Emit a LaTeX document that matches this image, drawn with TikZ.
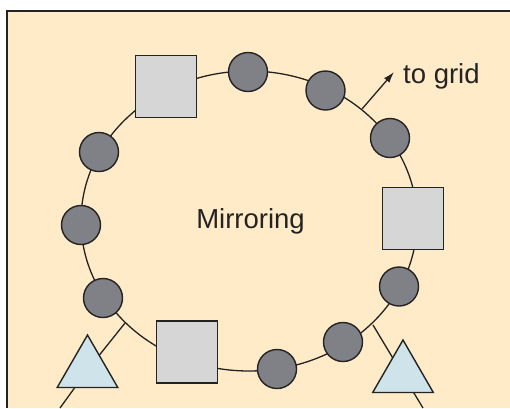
\documentclass[tikz,border=0pt]{standalone}
\usepackage{fontspec}
\setmainfont{Liberation Sans}
\usetikzlibrary{shapes.geometric,arrows.meta,backgrounds}
\definecolor{paper}{RGB}{255,235,200}
\definecolor{ink}{RGB}{35,35,35}
\definecolor{nodegray}{RGB}{128,129,134}
\definecolor{boxgray}{RGB}{214,214,214}
\definecolor{paleblue}{RGB}{206,228,234}
\begin{document}
\begin{tikzpicture}[x=1pt,y=-1pt,
  peer/.style={circle,draw=ink,fill=nodegray,line width=1.4pt,minimum size=39pt,inner sep=0pt},
  mirror/.style={rectangle,draw=ink,fill=boxgray,line width=1.4pt,minimum width=61pt,minimum height=62pt,inner sep=0pt},
  client/.style={regular polygon,regular polygon sides=3,draw=ink,fill=paleblue,line width=1.4pt,minimum size=70pt,inner sep=0pt},
  wire/.style={draw=ink,line width=1.3pt},
  txt/.style={font=\fontsize{27.5}{32}\selectfont,text=ink,inner sep=0pt}]
\useasboundingbox (0,0) rectangle (510,408);

% mirror servers (squares)
\node[mirror] (s1) at (166,86.5) {};
\node[mirror] (s2) at (413,218.5) {};
\node[mirror] (s3) at (187,352) {};

% peers on the ring (circles)
\node[peer] (c1) at (248,72) {};
\node[peer] (c2) at (325.5,90.5) {};
\node[peer] (c3) at (390,138) {};
\node[peer] (c4) at (399,286.5) {};
\node[peer] (c5) at (343,342) {};
\node[peer] (c6) at (277,369) {};
\node[peer] (c7) at (103,298) {};
\node[peer] (c8) at (81,225) {};
\node[peer] (c9) at (99,152) {};

% clients (triangles)
\node[client] (t1) at (87.5,370) {};
\node[client] (t2) at (403,375) {};

% labels
\node[txt,anchor=base] (mir) at (250.5,228) {Mirroring};
\node[txt,anchor=base west] (grid) at (403,83) {to grid};

% attachment points on the ring and free ends
\coordinate (ringL) at (125,323);
\coordinate (ringR) at (373,325);
\coordinate (ringA) at (362,109);
\coordinate (endL) at (60,408);
\coordinate (endR) at (423,408);
\coordinate (gridtip) at (394,72);

\draw[wire,-{Latex[length=11pt,width=7pt]}] (ringA) -- (gridtip);

\begin{pgfonlayer}{background}
  \fill[white] (0,0) rectangle (510,408);
  \fill[paper] (7,11) rectangle (510,408);
  \draw[ink,line width=1.6pt] (7,408) -- (7,11) -- (510,11);
  % the ring
  \draw[wire] (249,221) ellipse [x radius=168, y radius=150];
  % client links
  \draw[wire] (ringL) -- (t1.center) -- (endL);
  \draw[wire] (ringR) -- (t2.center) -- (endR);
\end{pgfonlayer}
\end{tikzpicture}
\end{document}
